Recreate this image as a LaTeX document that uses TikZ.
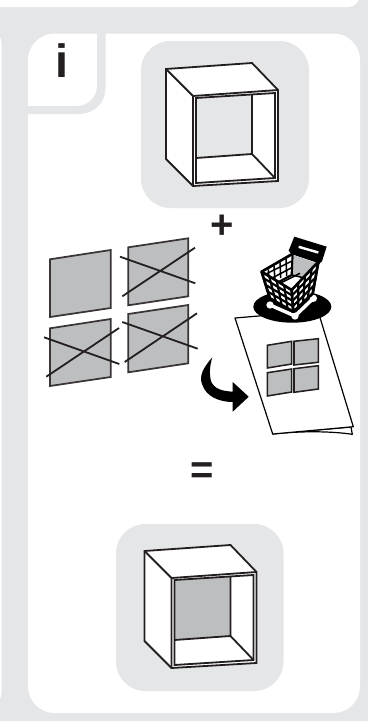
\documentclass[tikz,border=0pt]{standalone}
\usepackage{fontspec}
\usetikzlibrary{calc}
\setmainfont{Liberation Sans}
\definecolor{panelgray}{HTML}{E5E6E8}
\definecolor{partgray}{HTML}{BCBEC0}
\definecolor{inkdark}{HTML}{231F20}
\tikzset{
  px/.style={x=0.75pt,y=-0.75pt},
  thickline/.style={draw=inkdark,line width=1.35pt,line join=miter},
  partquad/.style={draw=inkdark!90,fill=partgray,line width=1.3pt},
  crossline/.style={draw=inkdark,line width=1.35pt},
  sheet/.style={draw=black,fill=white,line width=0.9pt,line join=round},
  smallwin/.style={draw=inkdark,fill=partgray,line width=1.15pt},
  glyph/.style={inner sep=0pt,text=inkdark,font=\bfseries},
  cartline/.style={draw=black,line width=1.15pt},
  cartface/.style={draw=black,fill=white,line width=2pt,line join=round},
  cartwhite/.style={draw=white,line width=1.5pt}
}
\newcommand{\cubedraw}[1]{%
  \path[thickline,fill=white] (166,69) -- (252,63) -- (278,90) -- (278,181) -- (193,186) -- (166,159) -- cycle;
  \path[thickline] (166,69) -- (193,96) -- (193,186);
  \path[thickline] (193,96) -- (278,90);
  \path[fill=#1] (196,98) -- (252,95) -- (252,154) -- (196,158) -- cycle;
  \path[thickline] (252,95) -- (252,154) -- (196,158);
  \path[thickline] (252,154) -- (275,178);
  \path[thickline] (196,98) -- (275,93) -- (275,178) -- (196,183) -- cycle;
}
\begin{document}
\begin{tikzpicture}[px]
\useasboundingbox (0,0) rectangle (368,721);
\fill[panelgray] (0,0) rectangle (368,721);
% top panel and left sliver
\fill[white,rounded corners=9pt] (-30,-40) rectangle (360,7);
\fill[white] (-5,38) -- (0.5,38) -- (1.6,43) -- (1.6,693) -- (0.5,698) -- (-5,698) -- cycle;
% main panel
\fill[white,rounded corners=20pt] (28,33.5) rectangle (360,713);
% tab for the i
\fill[panelgray] (97,33) -- (105.5,33) -- (105.5,88) .. controls (105.5,103) and (94,114) .. (79,114) -- (28,114) -- (28,106) -- (77,106) .. controls (88,106) and (97,97) .. (97,86) -- cycle;
\node[glyph,font=\fontsize{35}{35}\bfseries\selectfont] (info) at (61.6,61) {i};
% rounded boxes
\fill[panelgray,rounded corners=22pt] (141,41) rectangle (309,208);
\fill[panelgray,rounded corners=22pt] (116,524) rectangle (283.5,691);
\cubedraw{panelgray}
\begin{scope}[shift={(-21.5,482)}]
\cubedraw{partgray}
\end{scope}
\node[glyph,font=\fontsize{30}{30}\bfseries\selectfont] (plus) at (222.3,226.7) {+};
\node[glyph,font=\fontsize{30}{30}\bfseries\selectfont] (equals) at (201.8,472.7) {=};
% four parts
\path[partquad] (50,259.3) -- (110.7,250) -- (110.7,308) -- (50,317) -- cycle;
\path[partquad] (128.3,247.3) -- (188.3,238.3) -- (188.3,296.3) -- (128.3,305.3) -- cycle;
\path[partquad] (50,328.3) -- (110.7,319) -- (110.7,377) -- (50,386) -- cycle;
\path[partquad] (128.3,314) -- (188.3,305) -- (188.3,363.3) -- (128.3,372.3) -- cycle;
\path[crossline] (120,256.7) -- (195.3,283.3) (122.3,296.3) -- (195,247.7);
\path[crossline] (44,337.3) -- (119.3,364) (46.3,376.7) -- (119,328);
\path[crossline] (122.3,322) -- (197.7,348.7) (124.7,362) -- (197,313.3);
% leaflet
\path[sheet] (272.7,434) .. controls (300,431) and (330,431) .. (352.3,434.3) -- (351,427) -- cycle;
\path[sheet] (235,318) -- (318,311) -- (353.3,426.7) -- (272.7,434) -- cycle;
\path[smallwin] (267.3,345.3) -- (291.7,341.3) -- (291.7,364) -- (267.3,368) -- cycle;
\path[smallwin] (294,341.3) -- (318.3,338.7) -- (318.3,362.3) -- (294,365) -- cycle;
\path[smallwin] (267.3,372.7) -- (291.7,369) -- (291.7,392) -- (267.3,396) -- cycle;
\path[smallwin] (294,368.7) -- (318.3,365.7) -- (318.3,389) -- (294,392.3) -- cycle;
% black base and curved arrow
\fill[black] (292.3,306.7) ellipse[x radius=39,y radius=16];
\fill[black] (212.3,357.3) .. controls (203,368) and (199,376) .. (202,384) .. controls (206,397) and (220,402) .. (232.7,402) -- (232.7,411.7) -- (248.7,396.7) -- (232.7,382) -- (232.7,391.7) .. controls (222,391) and (214,389) .. (211,381) .. controls (209,373) and (210,365) .. (212.3,357.3) -- cycle;
% shopping trolley, in zoomed coordinates
\begin{scope}[shift={(250,230)},x=0.25pt,y=-0.25pt]
  \path[cartwhite,line width=2.6pt] (60,225) -- (135,258) -- (190,205);
  \fill[white] (60,225) circle[radius=11] (135,258) circle[radius=11] (190,205) circle[radius=11] (100,222) circle[radius=7];
  % handle
  \fill[black] (133,20) -- (230,50) -- (216,94) -- (205,104) -- (130,80) -- (116,62) -- cycle;
  \fill[white] (147,47) -- (206,64) -- (204,71) -- (145,54) -- cycle;
  % basket
  \path[cartface] (35,125) -- (130,70) -- (205,95) -- (188,190) -- (130,245) -- (60,205) -- cycle;
  \fill[partgray] (132,76) -- (198,99) -- (160,143) -- (128,135) -- cycle;
  \path[cartline,line width=1.6pt] (128,72) -- (125,135) -- (60,170);
  \path[cartline] (125,135) -- (160,143);
  \path[cartline] (55,118) -- (58,160) (72,108) -- (75,152) (90,97) -- (92,144) (108,86) -- (110,138);
  \path[cartline] (42,135) -- (128,92) (46,155) -- (127,112);
  \path[cartline] (90,160) -- (150,130);
  % front and side faces
  \path[cartface] (35,125) -- (125,180) -- (130,245) -- (60,205) -- cycle;
  \path[cartface] (125,180) -- (205,95) -- (188,190) -- (130,245) -- cycle;
  \foreach \t in {0.25,0.5,0.75} {
    \path[cartline,line width=1.6pt] ($(35,125)!\t!(125,180)$) -- ($(60,205)!\t!(130,245)$);
    \path[cartline,line width=1.6pt] ($(125,180)!\t!(205,95)$) -- ($(130,245)!\t!(188,190)$);
    \path[cartline,line width=1.6pt] ($(35,125)!\t!(60,205)$) -- ($(125,180)!\t!(130,245)$);
    \path[cartline,line width=1.6pt] ($(125,180)!\t!(130,245)$) -- ($(205,95)!\t!(188,190)$);
  }
\end{scope}
\end{tikzpicture}
\end{document}
